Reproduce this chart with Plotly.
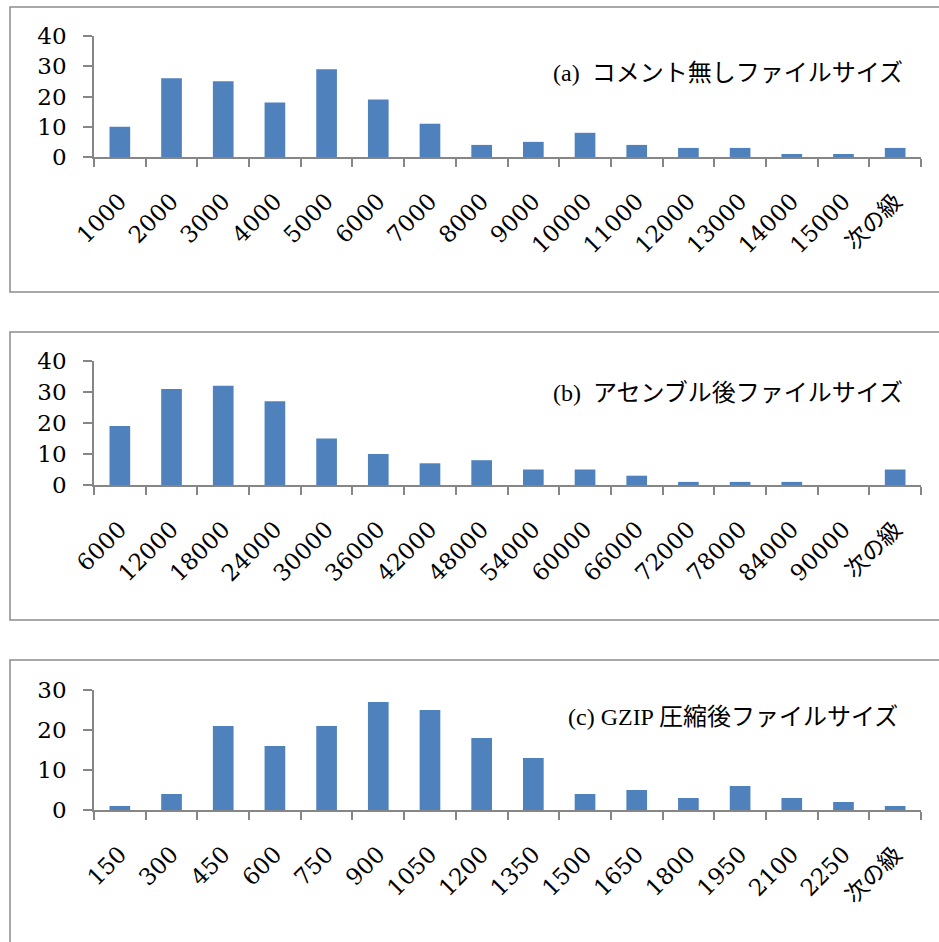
import plotly.graph_objects as go

W, H = 939, 942

# ---- data ----
cats_a = ["1000", "2000", "3000", "4000", "5000", "6000", "7000", "8000", "9000",
          "10000", "11000", "12000", "13000", "14000", "15000", "次の級"]
vals_a = [10, 26, 25, 18, 29, 19, 11, 4, 5, 8, 4, 3, 3, 1, 1, 3]
title_a = "(a)  コメント無しファイルサイズ"

cats_b = ["6000", "12000", "18000", "24000", "30000", "36000", "42000", "48000", "54000",
          "60000", "66000", "72000", "78000", "84000", "90000", "次の級"]
vals_b = [19, 31, 32, 27, 15, 10, 7, 8, 5, 5, 3, 1, 1, 1, 0, 5]
title_b = "(b)  アセンブル後ファイルサイズ"

cats_c = ["150", "300", "450", "600", "750", "900", "1050", "1200", "1350", "1500",
          "1650", "1800", "1950", "2100", "2250", "次の級"]
vals_c = [1, 4, 21, 16, 21, 27, 25, 18, 13, 4, 5, 3, 6, 3, 2, 1]
title_c = "(c) GZIP 圧縮後ファイルサイズ"

yticks_ab = [0, 10, 20, 30, 40]
yticks_c = [0, 10, 20, 30]

# ---- layout helpers (pixel -> paper) ----
def px(x):
    return x / W

def py(y):
    return 1 - y / H

TICKFONT = "'DejaVu Serif', 'Noto Sans CJK JP', serif"
TITLEFONT = "'Liberation Serif', 'Noto Sans CJK JP', serif"
AXC = "#868686"
BAR = "#4F81BD"

panels = [
    # cats, vals, title, yticks, ymax, y_top_px, y_zero_px, box_top, box_bottom, title_y, title_x
    (cats_a, vals_a, title_a, yticks_ab, 40, 36, 157, 7, 292, 73, 905),
    (cats_b, vals_b, title_b, yticks_ab, 40, 361, 485, 332, 620, 393, 905),
    (cats_c, vals_c, title_c, yticks_c, 30, 690, 810, 660, 950, 717, 900),
]

fig = go.Figure()
shapes = []
annotations = []
X0, X1 = 94, 921

for i, (cats, vals, title, yt, ymax, ytop, yzero, bt, bb, ty, tx) in enumerate(panels):
    n = "" if i == 0 else str(i + 1)
    fig.add_trace(go.Bar(
        x=cats, y=vals, xaxis="x" + n, yaxis="y" + n,
        marker=dict(color=BAR, line=dict(width=0)),
        width=0.4, showlegend=False, hoverinfo="x+y",
    ))
    fig.update_layout(**{
        "xaxis" + n: dict(
            domain=[px(X0), px(X1)], anchor="y" + n, type="category",
            range=[-0.5, len(cats) - 0.5], tickson="boundaries",
            ticks="outside", ticklen=8, tickcolor=AXC, tickwidth=1.5,
            showline=True, linecolor=AXC, linewidth=1.5, showgrid=False,
            tickangle=-45, ticklabelstandoff=20,
            tickfont=dict(family=TICKFONT, size=23, color="black"),
            automargin=False, fixedrange=True,
        ),
        "yaxis" + n: dict(
            domain=[py(yzero), py(ytop)], anchor="x" + n,
            range=[0, ymax], tickvals=yt,
            ticks="outside", ticklen=9, tickcolor=AXC, tickwidth=1.5,
            showline=True, linecolor=AXC, linewidth=1.5, showgrid=False,
            zeroline=False, ticklabelstandoff=12,
            tickfont=dict(family=TICKFONT, size=23, color="black"),
            automargin=False, fixedrange=True,
        ),
    })
    shapes.append(dict(type="rect", xref="paper", yref="paper",
                       x0=px(10), x1=px(960), y0=py(bb), y1=py(bt),
                       line=dict(color="#8c8c8c", width=1.5), fillcolor="rgba(0,0,0,0)",
                       layer="below"))
    annotations.append(dict(text=title, xref="paper", yref="paper",
                            x=px(tx), y=py(ty), xanchor="right", yanchor="middle",
                            showarrow=False,
                            font=dict(family=TITLEFONT, size=24, color="black")))

fig.update_layout(
    width=W, height=H, margin=dict(l=0, r=0, t=0, b=0, pad=0),
    paper_bgcolor="white", plot_bgcolor="white",
    shapes=shapes, annotations=annotations, bargap=0.6,
)

fig.write_html("out.html")
